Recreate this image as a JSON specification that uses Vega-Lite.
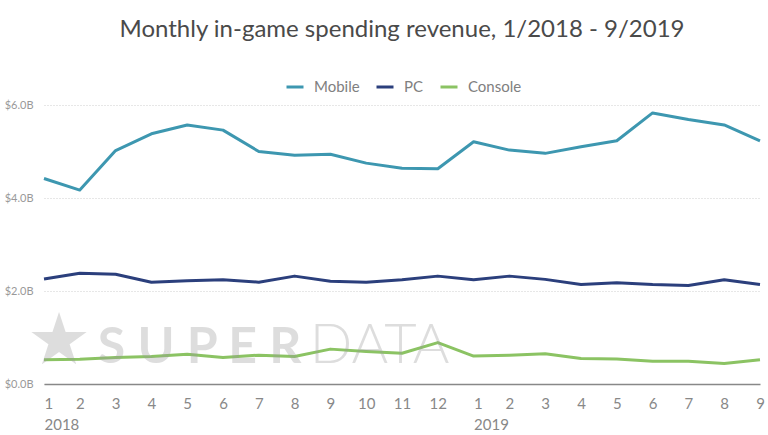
{
  "$schema": "https://vega.github.io/schema/vega-lite/v6.json",
  "autosize": "none",
  "width": 716,
  "height": 279,
  "padding": {"left": 44, "top": 105, "right": 8, "bottom": 51},
  "background": "white",
  "config": {
    "font": "Lato",
    "view": {"stroke": null}
  },
  "title": {
    "text": "Monthly in-game spending revenue, 1/2018 - 9/2019",
    "fontSize": 24,
    "fontWeight": "normal",
    "color": "#4a4a4a",
    "anchor": "middle",
    "offset": 35
  },
  "encoding": {
    "x": {
      "field": "ym",
      "type": "ordinal",
      "sort": null,
      "scale": {"type": "point", "padding": 0},
      "axis": {
        "title": null,
        "labelAngle": 0,
        "ticks": false,
        "grid": false,
        "domain": true,
        "domainColor": "#888888",
        "domainWidth": 1.5,
        "labelFontSize": 15,
        "labelColor": "#888888",
        "labelPadding": 12,
        "labelLineHeight": 21,
        "labelBaseline": "top",
        "labelExpr": "split(datum.value, '-')[1] == '1' ? ['1', split(datum.value, '-')[0]] : split(datum.value, '-')[1]",
        "labelAlign": {"condition": {"test": "split(datum.value, '-')[1] == '1'", "value": "left"}, "value": "center"},
        "labelOverlap": false,
        "labelBound": false,
        "zindex": 1
      }
    }
  },
  "layer": [
    {
      "data": {
        "values": [
          {"ym": "2018-1", "Mobile": 4.42, "PC": 2.26, "Console": 0.52},
          {"ym": "2018-2", "Mobile": 4.17, "PC": 2.38, "Console": 0.53},
          {"ym": "2018-3", "Mobile": 5.02, "PC": 2.36, "Console": 0.57},
          {"ym": "2018-4", "Mobile": 5.38, "PC": 2.19, "Console": 0.59},
          {"ym": "2018-5", "Mobile": 5.57, "PC": 2.22, "Console": 0.64},
          {"ym": "2018-6", "Mobile": 5.46, "PC": 2.24, "Console": 0.57},
          {"ym": "2018-7", "Mobile": 5.0, "PC": 2.19, "Console": 0.62},
          {"ym": "2018-8", "Mobile": 4.92, "PC": 2.32, "Console": 0.59},
          {"ym": "2018-9", "Mobile": 4.94, "PC": 2.21, "Console": 0.75},
          {"ym": "2018-10", "Mobile": 4.75, "PC": 2.19, "Console": 0.7},
          {"ym": "2018-11", "Mobile": 4.64, "PC": 2.24, "Console": 0.66},
          {"ym": "2018-12", "Mobile": 4.63, "PC": 2.32, "Console": 0.89},
          {"ym": "2019-1", "Mobile": 5.21, "PC": 2.24, "Console": 0.6},
          {"ym": "2019-2", "Mobile": 5.03, "PC": 2.32, "Console": 0.62},
          {"ym": "2019-3", "Mobile": 4.96, "PC": 2.25, "Console": 0.65},
          {"ym": "2019-4", "Mobile": 5.1, "PC": 2.14, "Console": 0.55},
          {"ym": "2019-5", "Mobile": 5.23, "PC": 2.18, "Console": 0.54},
          {"ym": "2019-6", "Mobile": 5.83, "PC": 2.14, "Console": 0.49},
          {"ym": "2019-7", "Mobile": 5.69, "PC": 2.12, "Console": 0.49},
          {"ym": "2019-8", "Mobile": 5.57, "PC": 2.24, "Console": 0.44},
          {"ym": "2019-9", "Mobile": 5.23, "PC": 2.14, "Console": 0.52}
        ]
      },
      "transform": [{"fold": ["Mobile", "PC", "Console"], "as": ["platform", "revenue"]}],
      "mark": {"type": "line", "strokeWidth": 3, "strokeJoin": "round"},
      "encoding": {
        "y": {
          "field": "revenue",
          "type": "quantitative",
          "scale": {"domain": [0, 6]},
          "axis": {
            "title": null,
            "values": [0, 2, 4, 6],
            "grid": true,
            "gridDash": [1, 2],
            "gridColor": "#cfcfcf",
            "domain": false,
            "ticks": false,
            "labelFontSize": 11,
            "labelColor": "#999999",
            "labelPadding": 11,
            "labelExpr": "'$' + format(datum.value, '.1f') + 'B'"
          }
        },
        "color": {
          "field": "platform",
          "type": "nominal",
          "sort": ["Mobile", "PC", "Console"],
          "scale": {"domain": ["Mobile", "PC", "Console"], "range": ["#3d97b0", "#2b3f7c", "#8bc363"]},
          "legend": {
            "title": null,
            "orient": "none",
            "legendX": 241,
            "legendY": -28,
            "direction": "horizontal",
            "symbolType": "stroke",
            "symbolStrokeWidth": 3,
            "symbolSize": 289,
            "labelFontSize": 15,
            "labelColor": "#808080",
            "labelOffset": 9,
            "columnPadding": 10
          }
        }
      }
    },
    {
      "data": {"values": [{}]},
      "mark": {"type": "text", "text": "★", "font": "DejaVu Sans", "fontSize": 72, "align": "center", "baseline": "middle", "color": "#9a9a9a", "opacity": 0.33, "dx": 15},
      "encoding": {"x": {"datum": "2018-1"}, "y": {"datum": 0.9}}
    },
    {
      "data": {"values": [{}]},
      "mark": {"type": "text", "text": "S U P E R", "fontSize": 50, "fontWeight": "bold", "align": "left", "baseline": "alphabetic", "color": "#9a9a9a", "opacity": 0.33, "dx": 18},
      "encoding": {"x": {"datum": "2018-2"}, "y": {"datum": 0.45}}
    },
    {
      "data": {"values": [{}]},
      "mark": {"type": "text", "text": "DATA", "fontSize": 56, "fontWeight": 300, "align": "left", "baseline": "alphabetic", "color": "#9a9a9a", "opacity": 0.33, "dx": 51},
      "encoding": {"x": {"datum": "2018-7"}, "y": {"datum": 0.45}}
    }
  ]
}
